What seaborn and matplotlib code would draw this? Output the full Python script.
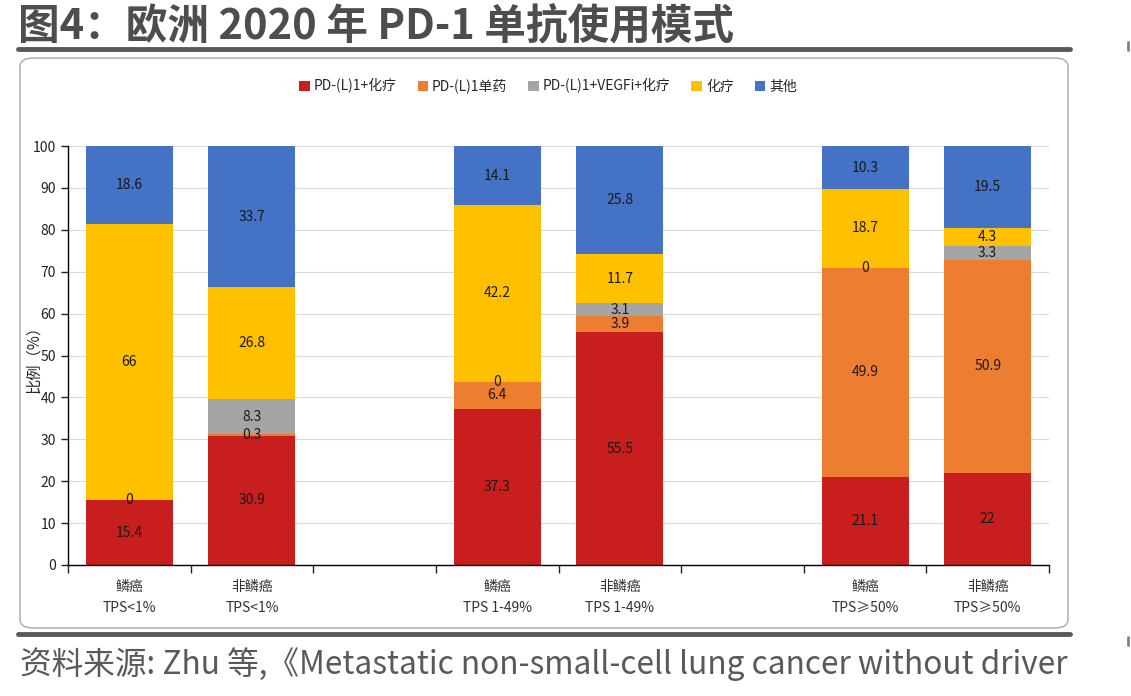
import numpy as np
import pandas as pd
import matplotlib.pyplot as plt
import seaborn as sns
from matplotlib.patches import Patch, FancyBboxPatch
from matplotlib.lines import Line2D

categories = ['鳞癌\nTPS<1%', '非鳞癌\nTPS<1%', '',
              '鳞癌\nTPS 1-49%', '非鳞癌\nTPS 1-49%', ' ',
              '鳞癌\nTPS≥50%', '非鳞癌\nTPS≥50%']
series = ['PD-(L)1+化疗', 'PD-(L)1单药', 'PD-(L)1+VEGFi+化疗', '化疗', '其他']
pd1_chemo = [15.4, 30.9, np.nan, 37.3, 55.5, np.nan, 21.1, 22]
pd1_mono = [0, 0.3, np.nan, 6.4, 3.9, np.nan, 49.9, 50.9]
pd1_vegf = [np.nan, 8.3, np.nan, 0, 3.1, np.nan, 0, 3.3]
chemo = [66, 26.8, np.nan, 42.2, 11.7, np.nan, 18.7, 4.3]
other = [18.6, 33.7, np.nan, 14.1, 25.8, np.nan, 10.3, 19.5]
colors = ['#C81E1E', '#ED7D31', '#A5A5A5', '#FFC000', '#4472C4']

df = pd.DataFrame({'cat': categories})
for name, vals in zip(series, [pd1_chemo, pd1_mono, pd1_vegf, chemo, other]):
    df[name] = vals
blank = df[series].isna().all(axis=1)
cum = df[series].fillna(0).cumsum(axis=1)
cum[blank] = np.nan

sns.set_style('white')
plt.rcParams['font.family'] = ['Noto Sans CJK SC', 'DejaVu Sans']

fig = plt.figure(figsize=(11.31, 6.96), dpi=100)
ax = fig.add_axes([68/1131, 1-565/696, (1049-68)/1131, (565-146)/696])

# stacked bars: draw cumulative totals from the top layer down
for i in reversed(range(len(series))):
    sns.barplot(x=df['cat'], y=cum[series[i]], order=categories, color=colors[i],
                width=0.71, saturation=1, errorbar=None, ax=ax, linewidth=0)

# data labels
for j in range(len(categories)):
    for i, s in enumerate(series):
        v = df.loc[j, s]
        if pd.isna(v):
            continue
        ax.text(j, cum.loc[j, s] - v/2, f'{v:g}', ha='center', va='center',
                fontsize=10, color='#1a1a1a')

ax.set_ylim(0, 100)
ax.set_xlim(-0.5, 7.5)
ax.set_yticks(range(0, 101, 10))
ax.tick_params(axis='y', labelsize=10, length=5, width=1, colors='#222222', direction='out', left=True)
ax.set_xticks(np.arange(-0.5, 8, 1))
ax.set_xticklabels([])
ax.tick_params(axis='x', which='major', length=6, width=1, direction='out', bottom=True)
ax.set_xticks(range(len(categories)), minor=True)
ax.set_xticklabels(categories, minor=True, fontsize=10, color='#333333', linespacing=1.6)
ax.tick_params(axis='x', which='minor', length=0, pad=11)
ax.set_xlabel('')
ax.set_ylabel('比例（%）', fontsize=11)
ax.yaxis.set_label_coords(-0.026, 0.5)
ax.grid(axis='y', color='#D9D9D9', lw=0.8)
ax.set_axisbelow(True)
for sp in ['top', 'right']:
    ax.spines[sp].set_visible(False)
for sp in ['left', 'bottom']:
    ax.spines[sp].set_color('black')
    ax.spines[sp].set_linewidth(1)

handles = [Patch(facecolor=c, edgecolor='none') for c in colors]
fig.legend(handles, series, loc='center', bbox_to_anchor=(548/1131, 1-86/696), ncol=5,
           frameon=False, fontsize=10, handlelength=0.75, handleheight=0.75,
           handletextpad=0.3, columnspacing=1.5)

# header / footer decoration
fig.text(18/1131, 1-26/696, '图4：欧洲 2020 年 PD-1 单抗使用模式', fontsize=30,
         fontweight='bold', color='#4D4D4D', va='center')
fig.add_artist(Line2D([18/1131, 1070/1131], [1-49/696]*2, lw=3.5, color='#595959'))
fig.add_artist(Line2D([18/1131, 1070/1131], [1-634/696]*2, lw=3.5, color='#595959'))
fig.add_artist(FancyBboxPatch((20/1131, 1-628/696), 1048/1131, 570/696,
                              boxstyle='round,pad=0,rounding_size=0.012',
                              transform=fig.transFigure, fc='none', ec='#A6A6A6', lw=1))
fig.add_artist(Line2D([1128/1131]*2, [1-42/696, 1-50/696], lw=2, color='#808080'))
fig.add_artist(Line2D([1128/1131]*2, [1-637/696, 1-645/696], lw=2, color='#808080'))
fig.text(20/1131, 1-664/696, '资料来源: Zhu 等,《Metastatic non-small-cell lung cancer without driver',
         fontsize=22.8, color='#595959', va='center')

fig.savefig('out.png', dpi=100)
